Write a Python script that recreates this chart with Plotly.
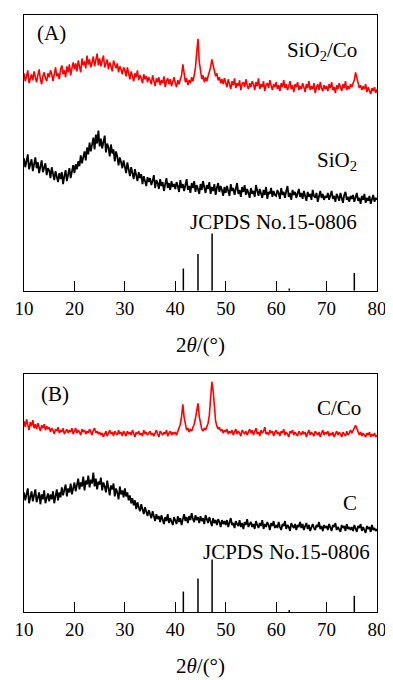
import numpy as np
import plotly.graph_objects as go

# 2theta scan grid (degrees), 0.25 deg step
two_theta = np.arange(10.0, 80.001, 0.25)

# Panel A intensities (a.u.)
sio2_co = [
    220, 212, 217, 223, 210, 215, 219, 213, 222, 216, 211, 218, 224, 214, 209, 217, 221, 215, 212, 220,
    216, 223, 219, 212, 221, 226, 217, 220, 214, 224, 228, 219, 223, 216, 227, 221, 229, 218, 225, 231,
    224, 230, 222, 233, 227, 221, 235, 228, 232, 225, 238, 229, 234, 226, 231, 237, 227, 233, 240, 228,
    235, 227, 232, 238, 226, 230, 234, 224, 231, 227, 222, 233, 228, 225, 230, 221, 227, 224, 219, 226,
    223, 217, 226, 219, 214, 222, 218, 212, 220, 216, 223, 213, 218, 215, 210, 219, 214, 217, 211, 216,
    213, 209, 218, 212, 207, 215, 211, 216, 208, 213, 210, 217, 206, 212, 215, 209, 214, 207, 211, 216,
    210, 206, 213, 209, 214, 218, 229, 220, 211, 215, 208, 213, 210, 216, 212, 218, 226, 241, 255, 232,
    221, 214, 218, 211, 216, 212, 217, 221, 226, 234, 229, 222, 217, 220, 213, 216, 210, 214, 209, 215,
    211, 206, 214, 209, 204, 212, 208, 215, 205, 210, 207, 213, 203, 209, 211, 206, 214, 208, 204, 210,
    206, 212, 209, 203, 211, 207, 215, 204, 209, 206, 212, 202, 208, 210, 205, 213, 207, 203, 209, 206,
    211, 204, 208, 202, 210, 206, 213, 205, 209, 203, 207, 212, 204, 208, 201, 209, 206, 211, 203, 207,
    204, 210, 206, 201, 209, 205, 212, 203, 207, 204, 210, 200, 206, 209, 203, 211, 205, 202, 208, 204,
    207, 202, 209, 205, 211, 203, 206, 200, 208, 204, 210, 206, 202, 209, 205, 212, 203, 207, 204, 209,
    206, 210, 213, 221, 216, 209, 205, 208, 203, 207, 204, 209, 201, 206, 203, 199, 205, 202, 206, 200,
    204,
]
sio2 = [
    134, 125, 131, 138, 123, 129, 133, 121, 127, 135, 124, 130, 119, 128, 132, 120, 126, 129, 117, 124,
    122, 114, 125, 118, 112, 121, 116, 110, 119, 113, 120, 108, 116, 122, 111, 118, 124, 114, 121, 127,
    119, 128, 123, 131, 126, 137, 129, 134, 141, 132, 145, 138, 150, 141, 147, 155, 143, 158, 149, 162,
    146, 154, 144, 151, 157, 140, 149, 145, 136, 148, 139, 143, 131, 141, 136, 127, 135, 130, 124, 132,
    126, 119, 130, 122, 116, 125, 119, 113, 123, 117, 111, 120, 114, 118, 108, 116, 112, 106, 115, 110,
    114, 107, 111, 117, 104, 112, 109, 103, 113, 106, 110, 101, 108, 114, 104, 109, 102, 111, 105, 108,
    103, 110, 106, 100, 112, 104, 108, 101, 107, 113, 102, 106, 99, 109, 104, 111, 100, 107, 103, 98,
    108, 102, 111, 104, 99, 107, 103, 110, 98, 105, 101, 108, 97, 104, 109, 100, 106, 102, 96, 105,
    99, 106, 102, 96, 108, 101, 104, 97, 103, 109, 98, 102, 95, 105, 100, 107, 97, 103, 99, 94,
    104, 98, 101, 95, 107, 100, 96, 103, 99, 94, 102, 97, 105, 93, 100, 98, 104, 95, 101, 97,
    96, 102, 99, 93, 104, 97, 100, 94, 101, 106, 95, 99, 92, 102, 97, 100, 94, 98, 103, 95,
    99, 93, 101, 96, 91, 100, 95, 98, 92, 102, 96, 94, 99, 90, 97, 101, 94, 98, 92, 96,
    94, 99, 92, 97, 101, 93, 96, 90, 98, 95, 91, 99, 94, 89, 97, 100, 92, 95, 90, 96,
    93, 97, 90, 95, 99, 91, 94, 88, 96, 92, 98, 89, 94, 91, 96, 88, 93, 97, 90, 94,
    92,
]

# Panel B intensities (a.u.)
c_co = [
    193, 187, 195, 189, 184, 192, 188, 194, 186, 190, 185, 191, 187, 183, 189, 186, 190, 184, 188, 185,
    187, 182, 186, 184, 180, 185, 183, 187, 181, 184, 182, 186, 180, 183, 185, 181, 184, 182, 186, 180,
    183, 186, 181, 184, 182, 179, 185, 182, 184, 180, 183, 181, 185, 182, 179, 184, 186, 181, 183, 180,
    182, 179, 181, 177, 180, 183, 178, 181, 184, 180, 182, 178, 183, 181, 179, 184, 180, 182, 178, 183,
    181, 178, 183, 180, 182, 179, 184, 180, 177, 182, 180, 183, 179, 181, 178, 184, 180, 182, 179, 181,
    183, 179, 181, 178, 182, 184, 180, 177, 183, 181, 179, 182, 180, 184, 178, 181, 183, 179, 182, 180,
    182, 179, 183, 186, 190, 198, 210, 197, 188, 184, 186, 182, 185, 183, 187, 190, 196, 205, 211, 198,
    189, 185, 183, 186, 184, 188, 191, 199, 214, 233, 224, 205, 193, 188, 185, 187, 183, 185, 181, 184,
    182, 185, 180, 183, 181, 184, 179, 182, 185, 180, 183, 181, 178, 184, 182, 180, 183, 179, 182, 185,
    181, 184, 179, 183, 186, 180, 182, 178, 184, 181, 183, 187, 180, 182, 179, 184, 181, 183, 178, 182,
    184, 180, 182, 178, 183, 181, 185, 179, 182, 180, 177, 183, 181, 184, 179, 182, 180, 178, 183, 181,
    179, 183, 180, 182, 177, 181, 184, 179, 182, 180, 178, 183, 181, 179, 182, 177, 181, 184, 179, 182,
    180, 183, 178, 181, 179, 182, 177, 181, 183, 179, 182, 180, 177, 182, 180, 178, 183, 179, 181, 184,
    181, 183, 186, 189, 185, 181, 179, 182, 178, 181, 179, 177, 181, 179, 182, 177, 180, 178, 181, 177,
    179,
]
carbon = [
    121, 113, 119, 125, 110, 117, 122, 112, 118, 124, 111, 116, 121, 109, 119, 114, 123, 110, 117, 120,
    112, 119, 114, 122, 110, 118, 124, 113, 121, 116, 126, 118, 123, 129, 117, 125, 121, 130, 119, 127,
    131, 122, 128, 135, 124, 131, 127, 137, 123, 133, 129, 138, 126, 134, 130, 141, 127, 135, 124, 132,
    129, 136, 123, 131, 127, 121, 133, 125, 118, 128, 124, 130, 117, 125, 121, 114, 127, 119, 123, 116,
    125, 117, 121, 113, 118, 110, 115, 108, 113, 104, 111, 106, 102, 109, 104, 99, 106, 101, 97, 103,
    99, 95, 102, 96, 92, 99, 94, 97, 91, 98, 93, 89, 96, 92, 99, 90, 95, 92, 88, 96,
    93, 89, 97, 91, 95, 88, 94, 99, 92, 96, 90, 97, 93, 100, 94, 91, 98, 93, 96, 90,
    97, 92, 95, 89, 98, 93, 90, 96, 91, 87, 95, 90, 93, 88, 94, 91, 86, 93, 89, 92,
    88, 93, 86, 91, 95, 88, 90, 85, 92, 89, 87, 93, 86, 90, 84, 91, 88, 94, 86, 89,
    91, 86, 89, 84, 92, 88, 85, 90, 87, 93, 84, 89, 86, 91, 88, 83, 90, 87, 92, 85,
    88, 85, 91, 86, 83, 89, 87, 92, 84, 88, 86, 82, 90, 87, 85, 89, 83, 88, 86, 91,
    85, 89, 83, 87, 90, 84, 88, 82, 86, 89, 85, 83, 88, 86, 91, 84, 87, 82, 88, 85,
    87, 83, 89, 85, 82, 88, 86, 90, 83, 86, 84, 81, 88, 85, 87, 82, 89, 84, 86, 83,
    86, 82, 88, 84, 81, 87, 85, 89, 82, 86, 83, 80, 87, 84, 86, 81, 88, 83, 85, 82,
    84,
]

# JCPDS No.15-0806 reference lines
jcpds_pos = [41.6, 44.5, 47.3, 62.6, 75.5]
jcpds_int = [39, 64, 100, 4, 31]
jcpds_scale_a = 0.58
jcpds_scale_b = 0.53

tick_vals = [10, 20, 30, 40, 50, 60, 70, 80]
tick_text = ["10", "20", "30", "40", "50", "60", "70", "80"]

RED = "#ff0000"
BLACK = "#000000"
FONT = "Liberation Serif"


def sticks(pos, inten, scale):
    xs, ys = [], []
    for p, v in zip(pos, inten):
        xs += [p, p, None]
        ys += [0, v * scale, None]
    return xs, ys


fig = go.Figure()

# Panel A
fig.add_trace(go.Scatter(x=two_theta, y=sio2_co, mode="lines",
                         line=dict(color=RED, width=1.6), xaxis="x", yaxis="y"))
fig.add_trace(go.Scatter(x=two_theta, y=sio2, mode="lines",
                         line=dict(color=BLACK, width=1.8), xaxis="x", yaxis="y"))
sx, sy = sticks(jcpds_pos, jcpds_int, jcpds_scale_a)
fig.add_trace(go.Scatter(x=sx, y=sy, mode="lines",
                         line=dict(color=BLACK, width=1.5), xaxis="x", yaxis="y"))

# Panel B
fig.add_trace(go.Scatter(x=two_theta, y=c_co, mode="lines",
                         line=dict(color=RED, width=1.6), xaxis="x2", yaxis="y2"))
fig.add_trace(go.Scatter(x=two_theta, y=carbon, mode="lines",
                         line=dict(color=BLACK, width=1.8), xaxis="x2", yaxis="y2"))
sx, sy = sticks(jcpds_pos, jcpds_int, jcpds_scale_b)
fig.add_trace(go.Scatter(x=sx, y=sy, mode="lines",
                         line=dict(color=BLACK, width=1.5), xaxis="x2", yaxis="y2"))

xaxis_common = dict(
    range=[10, 80], tickvals=tick_vals, ticktext=tick_text,
    ticks="inside", ticklen=10, tickwidth=1.2, tickcolor=BLACK,
    showline=True, linecolor=BLACK, linewidth=1.3, mirror=True,
    showgrid=False, zeroline=False,
    tickfont=dict(family=FONT, size=19, color=BLACK),
    title=dict(text="2<i>θ</i>/(°)", font=dict(family=FONT, size=21, color=BLACK),
               standoff=19),
)
yaxis_common = dict(
    showline=True, linecolor=BLACK, linewidth=1.3, mirror=True,
    showgrid=False, zeroline=False, showticklabels=False, ticks="",
)

# page body has an 8px default margin, so the figure is 8px smaller
fig.update_layout(
    width=385, height=672,
    margin=dict(l=14, r=11, t=6, b=62),
    paper_bgcolor="white", plot_bgcolor="white",
    showlegend=False,
    xaxis=dict(domain=[0, 1], anchor="y", **xaxis_common),
    yaxis=dict(domain=[0.538, 1], anchor="x", range=[0, 279], **yaxis_common),
    xaxis2=dict(domain=[0, 1], anchor="y2", **xaxis_common),
    yaxis2=dict(domain=[0, 0.399], anchor="x2", range=[0, 241], **yaxis_common),
)

txt = dict(family=FONT, size=21, color=BLACK)
ann = [
    dict(x=12.1, y=261, xref="x", yref="y", text="(A)", xanchor="left"),
    dict(x=76.5, y=243, xref="x", yref="y", text="SiO<sub>2</sub>/Co", xanchor="right"),
    dict(x=76.5, y=131, xref="x", yref="y", text="SiO<sub>2</sub>", xanchor="right"),
    dict(x=76.5, y=70, xref="x", yref="y", text="JCPDS No.15-0806", xanchor="right"),
    dict(x=12.9, y=221, xref="x2", yref="y2", text="(B)", xanchor="left"),
    dict(x=77.3, y=206, xref="x2", yref="y2", text="C/Co", xanchor="right"),
    dict(x=76.5, y=110, xref="x2", yref="y2", text="C", xanchor="right"),
    dict(x=79.0, y=61, xref="x2", yref="y2", text="JCPDS No.15-0806", xanchor="right"),
]
for a in ann:
    a.update(showarrow=False, yanchor="middle", font=txt)
fig.update_layout(annotations=ann)

fig.write_html("out.html")
